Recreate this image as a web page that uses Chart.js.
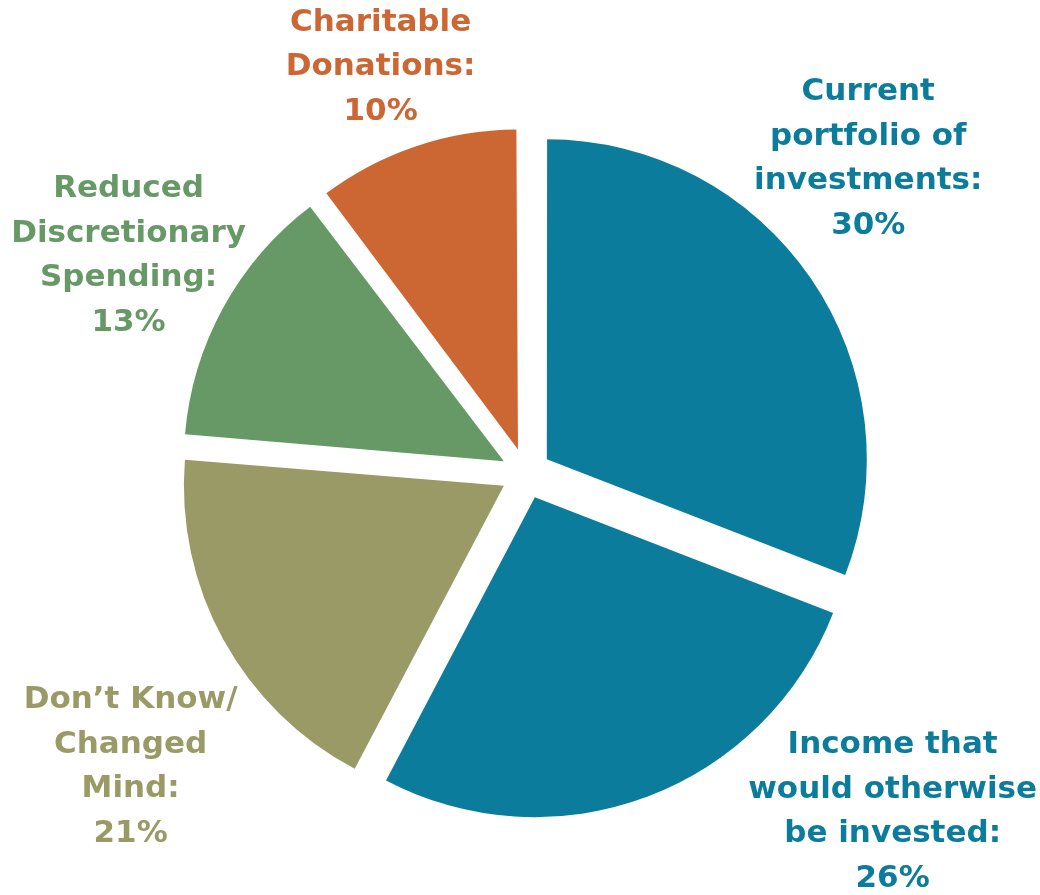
<!DOCTYPE html>
<html>
<head>
<meta charset="utf-8">
<script src="https://cdn.jsdelivr.net/npm/chart.js@4.4.0/dist/chart.umd.min.js"></script>
<style>
    html, body { margin: 0; padding: 0; background: #ffffff; }
    #wrap { width: 1040px; height: 895px; position: relative; }
</style>
</head>
<body>
<div id="wrap"><canvas id="pie" width="1040" height="895"></canvas></div>
<script>
const categories = [
    ['Current', 'portfolio of', 'investments:'],
    ['Income that', 'would otherwise', 'be invested:'],
    ['Don\u2019t Know/', 'Changed', 'Mind:'],
    ['Reduced', 'Discretionary', 'Spending:'],
    ['Charitable', 'Donations:']
];
// slice sizes as drawn in the picture (the printed labels are rounded differently)
const sliceValues = [30.9, 26.8, 18.6, 13.4, 10.3];
const printedPercents = ['30%', '26%', '21%', '13%', '10%'];
const sliceColors = ['#0c7c9c', '#0c7c9c', '#9a9a66', '#669966', '#cc6633'];

// where each label block sits: angle from 12 o'clock (deg) and distance as multiple of radius
const labelPolar = [
    [47.4, 1.453],
    [132.7, 1.559],
    [233.4, 1.539],
    [298.7, 1.416],
    [340.3, 1.348]
];

// Chart.js grows exploded small slices by offset*(1 - sin(circumference)); undo that so all radii match
const evenRadius = {
    id: 'evenRadius',
    afterDatasetUpdate(chart, args) {
        const meta = chart.getDatasetMeta(args.index);
        meta.data.forEach(arc => {
            const off = (arc.options.offset || 0) / 4;
            const fix = 1 - Math.sin(Math.min(Math.PI, arc.circumference));
            arc.outerRadius -= off * fix;
        });
    }
};

const labelPlugin = {
    id: 'sliceLabels',
    afterDatasetsDraw(chart) {
        const ctx = chart.ctx;
        const meta = chart.getDatasetMeta(0);
        const cx = meta.data[0].x;
        const cy = meta.data[0].y;
        const r = meta.controller.outerRadius;
        const lineH = 44.5;

        ctx.save();
        ctx.font = 'bold 31px "DejaVu Sans"';
        ctx.textAlign = 'center';
        ctx.textBaseline = 'middle';

        categories.forEach((lines, i) => {
            const all = lines.concat([printedPercents[i]]);
            const a = labelPolar[i][0] * Math.PI / 180;
            const x = cx + Math.sin(a) * r * labelPolar[i][1];
            const y = cy - Math.cos(a) * r * labelPolar[i][1];
            const top = y - (all.length - 1) * lineH / 2;
            ctx.fillStyle = sliceColors[i];
            all.forEach((t, j) => ctx.fillText(t, x, top + j * lineH));
        });
        ctx.restore();
    }
};

new Chart(document.getElementById('pie'), {
    type: 'pie',
    data: {
        labels: categories.map(c => c.join(' ')),
        datasets: [{
            data: sliceValues,
            backgroundColor: sliceColors,
            borderWidth: 0,
            // Chart.js moves an arc by offset / 4, so 100 gives a ~25px gap
            offset: 101,
            hoverOffset: 0
        }]
    },
    options: {
        responsive: false,
        animation: false,
        radius: 320,
        layout: {
            padding: { left: 12, right: 0, top: 52, bottom: 0 }
        },
        plugins: {
            legend: { display: false },
            tooltip: { enabled: false }
        }
    },
    plugins: [evenRadius, labelPlugin]
});
</script>
</body>
</html>
